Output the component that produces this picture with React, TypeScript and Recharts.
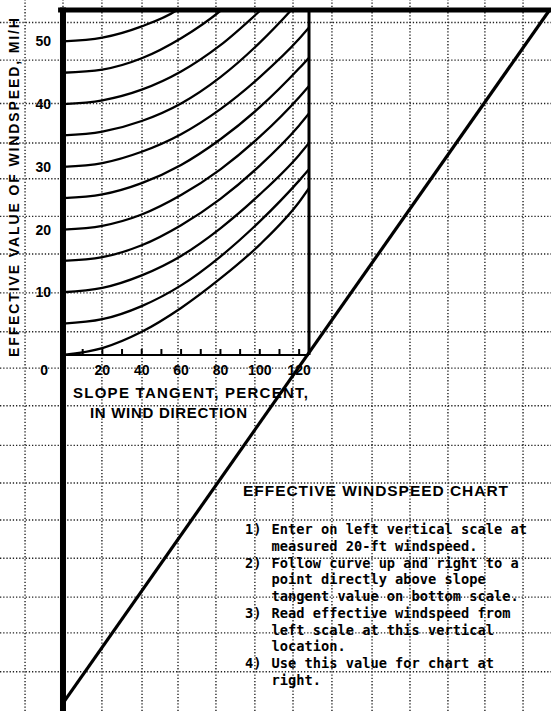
import React from 'react';
import { ComposedChart, Line, XAxis, YAxis, ReferenceLine } from 'recharts';

const WIDTH = 551;
const HEIGHT = 711;

// Slope tangent (%) sample points and effective windspeed (mi/h)
const SLOPE = [0, 20, 40, 60, 80, 100, 120, 125];
const WIND_0 = [0, 1.1, 3.7, 7.5, 12.2, 17.6, 24.4, 26.6];
const WIND_5 = [5, 5.7, 7.8, 11.1, 15.7, 21.3, 27.8, 29.6];
const WIND_10 = [10, 10.7, 12.7, 15.8, 20.2, 25.6, 31.9, 33.8];
const WIND_15 = [15, 15.6, 17.5, 20.7, 24.9, 30.2, 36.6, 38.5];
const WIND_20 = [20, 20.6, 22.4, 25.5, 29.6, 34.8, 41.1, 42.9];
const WIND_25 = [25, 25.6, 27.4, 30.3, 34.4, 39.5, 45.7, 47.4];
const WIND_30 = [30, 30.6, 32.4, 35.2, 39.2, 44.3, 50.4, 52.2];
const SLOPE_35 = [0, 20, 40, 60, 80, 100, 116, 120];
const WIND_35 = [35, 35.6, 37.3, 40.1, 44.3, 49.8, 55, 56.4];
const SLOPE_40 = [0, 20, 40, 60, 80, 100.5, 105];
const WIND_40 = [40, 40.6, 42.3, 45.2, 49.4, 55, 56.3];
const SLOPE_45 = [0, 20, 40, 60, 80.5, 85];
const WIND_45 = [45, 45.5, 47.3, 50.5, 55, 56.2];
const SLOPE_50 = [0, 20, 40, 58, 62];
const WIND_50 = [50, 50.6, 52.4, 55, 55.9];

const X_TICKS = [10, 20, 30, 40, 50, 60, 70, 80, 90, 100, 110, 120];
const Y_TICKS = [0, 10, 20, 30, 40, 50];

// Transfer diagonal (slope units, windspeed units)
const DIAGONAL_SLOPE = [0, 247.5];
const DIAGONAL_WIND = [-55.5, 55];

// Background paper grid, expressed in the chart's slope / windspeed units
const PAPER_COLS = [-19.3, 0, 19.8, 40.2, 58.5, 77.8, 97.6, 117.0, 136.8, 157.2, 176.5, 195.8, 214.6, 234.0];
const PAPER_ROWS = [53.0, 47.0, 40.1, 33.8, 28.1, 22.1, 16.1, 9.9, 3.7, -2.1, -8.1, -14.4, -20.4, -26.3, -32.4, -38.6, -44.3, -50.5];

const Y_TITLE = 'EFFECTIVE VALUE OF WINDSPEED, MI/H';
const X_TITLE_1 = 'SLOPE TANGENT, PERCENT,';
const X_TITLE_2 = 'IN WIND DIRECTION';
const TITLE = 'EFFECTIVE WINDSPEED CHART';
const STEP_NUMS = ['1)', '', '2)', '', '', '3)', '', '', '4)', ''];
const STEP_TEXT = [
  'Enter on left vertical scale at',
  'measured 20-ft windspeed.',
  'Follow curve up and right to a',
  'point directly above slope',
  'tangent value on bottom scale.',
  'Read effective windspeed from',
  'left scale at this vertical',
  'location.',
  'Use this value for chart at',
  'right.',
];

const toPoints = (xs: number[], ys: number[]) => xs.map((v, i) => ({ v, w: ys[i] }));

const CURVES = [
  { id: 'w0', data: toPoints(SLOPE, WIND_0) },
  { id: 'w5', data: toPoints(SLOPE, WIND_5) },
  { id: 'w10', data: toPoints(SLOPE, WIND_10) },
  { id: 'w15', data: toPoints(SLOPE, WIND_15) },
  { id: 'w20', data: toPoints(SLOPE, WIND_20) },
  { id: 'w25', data: toPoints(SLOPE, WIND_25) },
  { id: 'w30', data: toPoints(SLOPE, WIND_30) },
  { id: 'w35', data: toPoints(SLOPE_35, WIND_35) },
  { id: 'w40', data: toPoints(SLOPE_40, WIND_40) },
  { id: 'w45', data: toPoints(SLOPE_45, WIND_45) },
  { id: 'w50', data: toPoints(SLOPE_50, WIND_50) },
];

const DIAGONAL = toPoints(DIAGONAL_SLOPE, DIAGONAL_WIND);

const LABEL_FONT = '"Liberation Sans", Arial, sans-serif';
const MONO_FONT = '"DejaVu Sans Mono", "Liberation Mono", monospace';
const GRID_STYLE = { stroke: '#222', strokeWidth: 1.4, strokeDasharray: '1.3 1.9' };

const renderXTick = (props: any) => {
  const { x, y, payload } = props;
  const v = payload.value;
  return (
    <g>
      <line x1={x} y1={y} x2={x} y2={y - 6} stroke="#000" strokeWidth={2} />
      {v % 20 === 0 ? (
        <text x={x} y={y + 20} textAnchor="middle" fontFamily={LABEL_FONT} fontWeight="bold" fontSize={14} fill="#000">
          {v}
        </text>
      ) : null}
    </g>
  );
};

const renderYTick = (props: any) => {
  const { x, y, payload } = props;
  const v = payload.value;
  if (v === 0) {
    return (
      <text x={x - 15} y={y + 20} textAnchor="end" fontFamily={LABEL_FONT} fontWeight="bold" fontSize={14} fill="#000">
        {v}
      </text>
    );
  }
  return (
    <text x={x - 12} y={y + 5} textAnchor="end" fontFamily={LABEL_FONT} fontWeight="bold" fontSize={14} fill="#000">
      {v}
    </text>
  );
};

export default function App() {
  return (
    <div style={{ position: 'absolute', left: 0, top: 0, width: WIDTH, height: HEIGHT, background: '#fff' }}>
      <div style={{ position: 'absolute', left: 0, top: 0 }}>
        <ComposedChart width={WIDTH} height={HEIGHT} margin={{ top: 0, right: 0, bottom: 0, left: 0 }}>
          <XAxis xAxisId="v" dataKey="v" type="number" domain={[-32.04, 248.22]} allowDataOverflow hide />
          <YAxis yAxisId="w" type="number" domain={[-56.75, 56.59]} allowDataOverflow hide />
          {PAPER_COLS.map((c) => (
            <ReferenceLine key={'c' + c} xAxisId="v" yAxisId="w" x={c} {...GRID_STYLE} />
          ))}
          {PAPER_ROWS.map((r) => (
            <ReferenceLine key={'r' + r} xAxisId="v" yAxisId="w" y={r} {...GRID_STYLE} />
          ))}
          <ReferenceLine
            xAxisId="v"
            yAxisId="w"
            segment={[{ x: 0, y: 55.4 }, { x: 0, y: -56.75 }]}
            stroke="#000"
            strokeWidth={6}
          />
          <ReferenceLine
            xAxisId="v"
            yAxisId="w"
            segment={[{ x: -2.5, y: 55 }, { x: 248.22, y: 55 }]}
            stroke="#000"
            strokeWidth={5}
          />
          <Line
            xAxisId="v"
            yAxisId="w"
            data={DIAGONAL}
            dataKey="w"
            type="linear"
            stroke="#000"
            strokeWidth={3.2}
            dot={false}
            activeDot={false}
            isAnimationActive={false}
          />
        </ComposedChart>
      </div>
      <div style={{ position: 'absolute', left: 0, top: 0 }}>
        <ComposedChart width={WIDTH} height={HEIGHT} margin={{ top: 10, right: 242, bottom: 326, left: 0 }}>
          <XAxis
            dataKey="v"
            type="number"
            domain={[0, 125]}
            allowDataOverflow
            ticks={X_TICKS}
            interval={0}
            height={30}
            tickLine={false}
            tickSize={0}
            tickMargin={0}
            axisLine={{ stroke: '#000', strokeWidth: 2 }}
            tick={renderXTick}
          />
          <YAxis
            type="number"
            domain={[0, 55]}
            allowDataOverflow
            ticks={Y_TICKS}
            interval={0}
            width={63}
            axisLine={false}
            tickLine={false}
            tickSize={0}
            tickMargin={0}
            tick={renderYTick}
          />
          <ReferenceLine x={125} stroke="#000" strokeWidth={3} />
          {CURVES.map((c) => (
            <Line
              key={c.id}
              data={c.data}
              dataKey="w"
              type="monotone"
              stroke="#000"
              strokeWidth={2.3}
              dot={false}
              activeDot={false}
              isAnimationActive={false}
            />
          ))}
          <text
            x={13.5}
            y={187.5}
            transform="rotate(-90 13.5 187.5)"
            textAnchor="middle"
            dominantBaseline="central"
            fontFamily={LABEL_FONT}
            fontWeight="bold"
            fontSize={14}
            textLength={339}
            lengthAdjust="spacing"
            fill="#000"
          >
            {Y_TITLE}
          </text>
          <text x={73} y={398} fontFamily={LABEL_FONT} fontWeight="bold" fontSize={15} textLength={235} lengthAdjust="spacing" fill="#000">
            {X_TITLE_1}
          </text>
          <text x={90} y={418} fontFamily={LABEL_FONT} fontWeight="bold" fontSize={15} textLength={157} lengthAdjust="spacing" fill="#000">
            {X_TITLE_2}
          </text>
          <text x={243} y={496} fontFamily={LABEL_FONT} fontWeight="bold" fontSize={15.5} textLength={265} lengthAdjust="spacing" fill="#000">
            {TITLE}
          </text>
          {STEP_TEXT.map((t, i) => (
            <g key={i}>
              {STEP_NUMS[i] ? (
                <text x={245} y={534 + i * 16.75} fontFamily={MONO_FONT} fontWeight="bold" fontSize={13.7} fill="#000">
                  {STEP_NUMS[i]}
                </text>
              ) : null}
              <text x={271.5} y={534 + i * 16.75} fontFamily={MONO_FONT} fontWeight="bold" fontSize={13.7} fill="#000">
                {t}
              </text>
            </g>
          ))}
        </ComposedChart>
      </div>
    </div>
  );
}
